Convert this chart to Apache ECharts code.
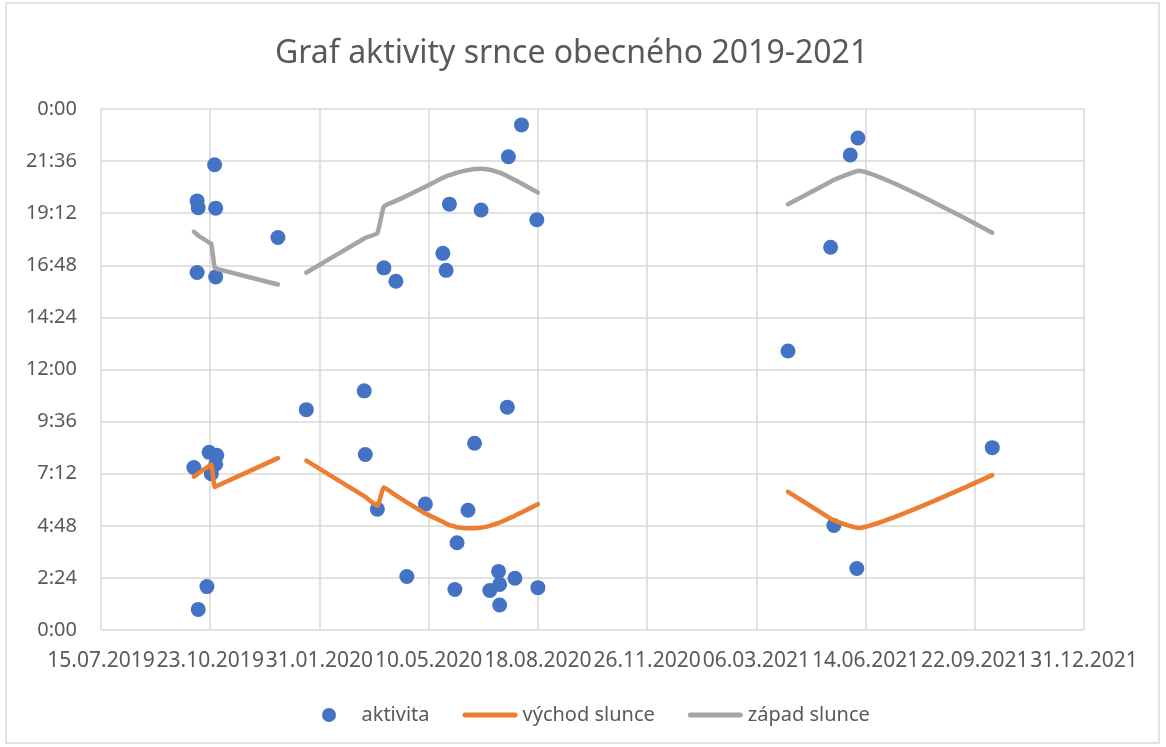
<!DOCTYPE html>
<html>
<head>
<meta charset="utf-8">
<title>Graf aktivity srnce obecného 2019-2021</title>
<script src="https://cdn.jsdelivr.net/npm/echarts@6/dist/echarts.min.js"></script>
<style>
  html, body { margin: 0; padding: 0; background: #fff; }
  #chart { width: 1166px; height: 747px; }
</style>
</head>
<body>
<div id="chart"></div>
<script>
// pozorování (datum, čas aktivity)
var activityDates = [
  '27.10.2019', '11.10.2019', '12.10.2019', '28.10.2019', '24.12.2019', '11.10.2019', '28.10.2019',
  '19.01.2020', '22.10.2019', '29.10.2019', '28.10.2019', '08.10.2019', '24.10.2019', '20.10.2019',
  '12.10.2019', '03.08.2020', '22.07.2020', '29.05.2020', '27.06.2020', '17.08.2020', '23.05.2020',
  '26.05.2020', '30.03.2020', '10.04.2020', '12.03.2020', '21.07.2020', '21.06.2020', '13.03.2020',
  '07.05.2020', '24.03.2020', '15.06.2020', '05.06.2020', '20.04.2020', '13.07.2020', '28.07.2020',
  '14.07.2020', '05.07.2020', '03.06.2020', '18.08.2020', '14.07.2020', '07.06.2021', '31.05.2021',
  '13.05.2021', '04.04.2021', '08.10.2021', '16.05.2021', '06.06.2021'
]
var activityTimes = [
  '21:26', '19:46', '19:27', '19:26', '18:05', '16:28', '16:16',
  '10:09', '8:11', '8:03', '7:38', '7:29', '7:12', '2:00',
  '0:57', '23:16', '21:48', '19:37', '19:21', '18:54', '17:21',
  '16:34', '16:41', '16:04', '11:01', '10:16', '8:36', '8:05',
  '5:48', '5:34', '5:31', '4:01', '2:28', '2:42', '2:23',
  '2:06', '1:49', '1:52', '1:57', '1:09', '22:40', '21:53',
  '17:38', '12:51', '8:24', '4:49', '2:50'
]

// východ / západ slunce ve dnech pozorování (null = prázdný řádek)
var sunDates = [
  '08.10.2019', '11.10.2019', '12.10.2019', '20.10.2019', '22.10.2019', '24.10.2019', '27.10.2019',
  '28.10.2019', '29.10.2019', '24.12.2019', null,
  '19.01.2020', '12.03.2020', '13.03.2020', '24.03.2020', '30.03.2020', '10.04.2020', '20.04.2020',
  '07.05.2020', '23.05.2020', '26.05.2020', '29.05.2020', '03.06.2020', '05.06.2020', '15.06.2020',
  '21.06.2020', '27.06.2020', '05.07.2020', '13.07.2020', '14.07.2020', '21.07.2020', '22.07.2020',
  '28.07.2020', '03.08.2020', '17.08.2020', '18.08.2020', null,
  '04.04.2021', '13.05.2021', '16.05.2021', '31.05.2021', '06.06.2021', '07.06.2021', '08.10.2021'
]
var sunrise = [
  '7:04', '7:10', '7:13', '7:29', '7:33', '7:38', '6:35',
  '6:37', '6:38', '7:55', null,
  '7:48', '6:10', '6:08', '5:43', '6:34', '6:12', '5:53',
  '5:22', '4:59', '4:54', '4:50', '4:46', '4:44', '4:41',
  '4:41', '4:43', '4:48', '4:56', '4:57', '5:06', '5:08',
  '5:16', '5:25', '5:46', '5:48', null,
  '6:22', '5:08', '5:03', '4:47', '4:43', '4:42', '7:08'
]
var sunset = [
  '18:21', '18:13', '18:10', '17:55', '17:51', '17:47', '16:42',
  '16:40', '16:38', '15:55', null,
  '16:28', '18:02', '18:04', '18:17', '19:30', '19:46', '20:00',
  '20:25', '20:50', '20:54', '20:57', '21:02', '21:04', '21:11',
  '21:14', '21:15', '21:12', '21:05', '21:04', '20:55', '20:53',
  '20:44', '20:34', '20:11', '20:09', null,
  '19:37', '20:39', '20:44', '21:02', '21:08', '21:09', '18:18'
]

var ORIGIN = Date.UTC(2019, 6, 15) // 15.07.2019
var DAY = 86400000

function dayIndex(s) {
  var p = s.split('.').map(Number)
  return Math.round((Date.UTC(p[2], p[1] - 1, p[0]) - ORIGIN) / DAY)
}
function hours(t) {
  var p = t.split(':').map(Number)
  return p[0] + p[1] / 60
}
function pad(n) { return n < 10 ? '0' + n : '' + n }

var activityData = activityDates.map(function (d, i) {
  return [dayIndex(d), hours(activityTimes[i])]
})
function sunSeries(values) {
  return sunDates.map(function (d, i) {
    if (d === null || values[i] === null) return ['-', '-']
    return [dayIndex(d), hours(values[i])]
  })
}

// ikonka čáry v legendě (silná čára se zaoblenými konci)
var LINE_ICON = 'path://M2.5,0 L52.5,0 A2.5,2.5 0 0 1 52.5,5 L2.5,5 A2.5,2.5 0 0 1 2.5,0 Z'

var FONT = 'Noto Sans'
var chart = echarts.init(document.getElementById('chart'))
chart.setOption({
  animation: false,
  textStyle: { fontFamily: FONT },
  title: {
    text: 'Graf aktivity srnce obecného 2019-2021',
    left: 270,
    top: 33,
    textStyle: { color: '#595959', fontSize: 32, fontWeight: 'normal', fontFamily: FONT }
  },
  graphic: [{
    type: 'rect',
    shape: { x: 6, y: 3, width: 1153, height: 740 },
    style: { fill: 'none', stroke: '#d9d9d9', lineWidth: 1.5 },
    silent: true
  }],
  legend: {
    bottom: 17,
    left: 317,
    itemWidth: 55,
    itemHeight: 14,
    itemGap: 33,
    textStyle: { color: '#595959', fontSize: 20, fontFamily: FONT },
    data: [
      { name: 'aktivita', icon: 'circle', itemStyle: { color: '#4472C4', opacity: 1 } },
      { name: 'východ slunce', icon: LINE_ICON, itemStyle: { color: '#ED7D31' } },
      { name: 'západ slunce', icon: LINE_ICON, itemStyle: { color: '#A5A5A5' } }
    ]
  },
  grid: {
    left: 101,
    right: 82,
    top: 109,
    bottom: 117
  },
  xAxis: {
    type: 'value',
    min: 0,
    max: 900,
    interval: 100,
    axisLine: { show: false },
    axisTick: { show: false },
    splitLine: { show: true, lineStyle: { color: '#d9d9d9', width: 1.5 } },
    axisLabel: {
      color: '#595959',
      fontSize: 21,
      margin: 21,
      showMinLabel: true,
      showMaxLabel: true,
      formatter: function (v) {
        var d = new Date(ORIGIN + v * DAY)
        return pad(d.getUTCDate()) + '.' + pad(d.getUTCMonth() + 1) + '.' + d.getUTCFullYear()
      }
    }
  },
  yAxis: {
    type: 'value',
    min: 0,
    max: 24,
    interval: 2.4,
    axisLine: { show: false },
    axisTick: { show: false },
    splitLine: { show: true, lineStyle: { color: '#d9d9d9', width: 1.5 } },
    axisLabel: {
      color: '#595959',
      fontSize: 20,
      margin: 24,
      formatter: function (v) {
        var m = Math.round(v * 60) % 1440
        return Math.floor(m / 60) + ':' + pad(m % 60)
      }
    }
  },
  series: [
    {
      name: 'aktivita',
      type: 'scatter',
      symbol: 'circle',
      symbolSize: 15,
      itemStyle: { color: '#4472C4', opacity: 1 },
      data: activityData
    },
    {
      name: 'východ slunce',
      type: 'line',
      smooth: 0.15,
      symbol: 'none',
      showSymbol: false,
      connectNulls: false,
      itemStyle: { color: '#ED7D31' },
      lineStyle: { color: '#ED7D31', width: 4.5, cap: 'round', join: 'round' },
      data: sunSeries(sunrise)
    },
    {
      name: 'západ slunce',
      type: 'line',
      smooth: 0.15,
      symbol: 'none',
      showSymbol: false,
      connectNulls: false,
      itemStyle: { color: '#A5A5A5' },
      lineStyle: { color: '#A5A5A5', width: 4.5, cap: 'round', join: 'round' },
      data: sunSeries(sunset)
    }
  ]
})
</script>
</body>
</html>
